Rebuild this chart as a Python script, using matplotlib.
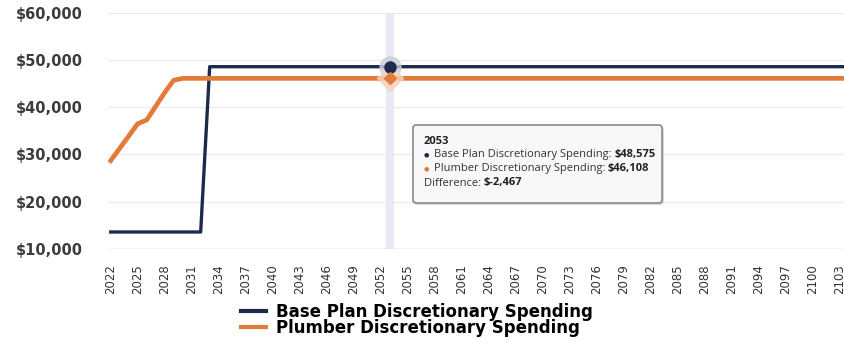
import matplotlib
matplotlib.use("Agg")
import matplotlib.pyplot as plt
from matplotlib.patches import FancyBboxPatch
from matplotlib.ticker import FuncFormatter

# data
years = list(range(2022, 2106))
base_spending = [13600] * 11 + [48575] * 73          # jumps in 2033
plumber_spending = [28700, 31300, 33900, 36500, 37300, 40200, 43100, 45700] + [46108] * 76

hover_year = 2053
hover_base = 48575
hover_plumber = 46108
diff = hover_plumber - hover_base

navy = '#1c2b4b'
orange = '#e27b3a'

fig = plt.figure(figsize=(8.44, 3.42), dpi=100)
ax = fig.add_axes([108 / 844, 1 - 249 / 342, 1 - 108 / 844, (249 - 12.7) / 342])

# hover crosshair
ax.axvline(hover_year, color='#e9e9f3', lw=6, zorder=1)

ax.plot(years, base_spending, color=navy, lw=2.4, zorder=3, label='Base Plan Discretionary Spending')
ax.plot(years, plumber_spending, color=orange, lw=3.4, zorder=3, label='Plumber Discretionary Spending')

# hover markers with halo
ax.plot(hover_year, hover_base, 'o', ms=15, color='#c9cfdd', alpha=0.8, zorder=4)
ax.plot(hover_year, hover_base, 'o', ms=8, color=navy, zorder=5)
ax.plot(hover_year, hover_plumber, 'D', ms=13, color='#f6d3bb', alpha=0.8, zorder=4)
ax.plot(hover_year, hover_plumber, 'D', ms=6, color=orange, zorder=5)

ax.set_ylim(10000, 60000)
ax.set_xlim(2021.7, 2103.5)
ax.set_yticks([10000, 20000, 30000, 40000, 50000, 60000])
ax.yaxis.set_major_formatter(FuncFormatter(lambda v, p: '${:,.0f}'.format(v)))
ax.set_xticks(list(range(2022, 2104, 3)))
ax.grid(axis='y', color='#ececec', lw=1)
ax.set_axisbelow(True)
for s in ax.spines.values():
    s.set_visible(False)
ax.axhline(10000, color='#d8d8d8', lw=1, zorder=2)

ax.tick_params(axis='y', length=0, pad=18, labelsize=10.5, labelcolor='#3c3c3c')
ax.tick_params(axis='x', length=0, pad=11, labelsize=8.5, labelcolor='#333333', rotation=90)
for lab in ax.get_yticklabels():
    lab.set_fontweight('bold')
    lab.set_fontfamily('DejaVu Sans')
for lab in ax.get_xticklabels():
    lab.set_fontfamily('DejaVu Sans')

# tooltip drawn on an overlay axes so it sits above the lines
tip = fig.add_axes([0, 0, 1, 1], zorder=10)
tip.set_xlim(0, 844)
tip.set_ylim(342, 0)
tip.axis('off')
tip.add_patch(FancyBboxPatch((415, 127), 249, 78, boxstyle='round,pad=0,rounding_size=3',
                             fc='#d9d9d9', ec='none'))
tip.add_patch(FancyBboxPatch((413, 125), 249, 78, boxstyle='round,pad=0,rounding_size=3',
                             fc='#f8f8f8', ec='#8a8a8a', lw=1.2))

tf = 'Open Sans'
ts = 8
tip.text(424, 141, str(hover_year), fontsize=ts, fontweight='bold', family=tf, va='center', color='#222222')
rows = [
    (155, navy, 'Base Plan Discretionary Spending: ', '${:,.0f}'.format(hover_base)),
    (169, orange, 'Plumber Discretionary Spending: ', '${:,.0f}'.format(hover_plumber)),
]
for yy, col, label, val in rows:
    b = tip.text(424, yy, '\u25cf', fontsize=4.5, color=col, va='center', family='DejaVu Sans')
    t = tip.annotate(label, xy=(1, 0.5), xycoords=b, xytext=(3, 0), textcoords='offset points',
                     fontsize=ts, family=tf, va='center', color='#333333')
    tip.annotate(val, xy=(1, 0.5), xycoords=t, fontsize=ts, family=tf, fontweight='bold',
                 va='center', color='#222222')
t = tip.text(424, 183, 'Difference: ', fontsize=ts, family=tf, va='center', color='#333333')
tip.annotate('$-{:,.0f}'.format(abs(diff)), xy=(1, 0.5), xycoords=t, fontsize=ts, family=tf,
             fontweight='bold', va='center', color='#222222')

leg = fig.legend(loc='upper left', bbox_to_anchor=(234 / 844, 1 - 296 / 342), frameon=False,
                 prop={'family': 'DejaVu Sans', 'weight': 'bold', 'size': 12},
                 handlelength=1.5, handletextpad=0.6, labelspacing=-0.1, borderaxespad=0)
for line in leg.get_lines():
    line.set_linewidth(3)

fig.savefig('out.png', dpi=100)
